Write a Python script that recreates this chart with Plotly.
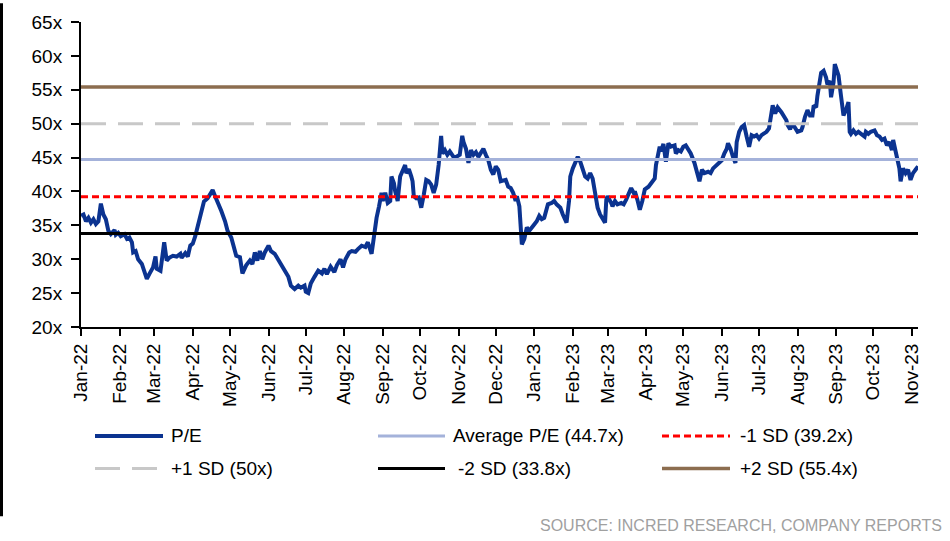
import plotly.graph_objects as go

# ---------------- data ----------------
dates = [
    "2022-01-01", "2022-01-03", "2022-01-05", "2022-01-07", "2022-01-09", "2022-01-11", "2022-01-13",
    "2022-01-15", "2022-01-17", "2022-01-19", "2022-01-21", "2022-01-23", "2022-01-25", "2022-01-28",
    "2022-01-29", "2022-01-31", "2022-02-02", "2022-02-05", "2022-02-07", "2022-02-09", "2022-02-11",
    "2022-02-12", "2022-02-14", "2022-02-16", "2022-02-19", "2022-02-21", "2022-02-23", "2022-02-25",
    "2022-02-28", "2022-03-02", "2022-03-03", "2022-03-06", "2022-03-09", "2022-03-11", "2022-03-13",
    "2022-03-16", "2022-03-19", "2022-03-22", "2022-03-23", "2022-03-26", "2022-03-28", "2022-03-30",
    "2022-04-01", "2022-04-03", "2022-04-05", "2022-04-08", "2022-04-10", "2022-04-13", "2022-04-15",
    "2022-04-17", "2022-04-19", "2022-04-21", "2022-04-24", "2022-04-27", "2022-04-29", "2022-05-02",
    "2022-05-04", "2022-05-06", "2022-05-09", "2022-05-11", "2022-05-14", "2022-05-17", "2022-05-19",
    "2022-05-21", "2022-05-23", "2022-05-25", "2022-05-27", "2022-05-29", "2022-06-01", "2022-06-03",
    "2022-06-06", "2022-06-09", "2022-06-11", "2022-06-14", "2022-06-17", "2022-06-19", "2022-06-22",
    "2022-06-25", "2022-06-27", "2022-06-30", "2022-07-01", "2022-07-03", "2022-07-05", "2022-07-08",
    "2022-07-11", "2022-07-14", "2022-07-16", "2022-07-18", "2022-07-21", "2022-07-24", "2022-07-26",
    "2022-07-29", "2022-07-31", "2022-08-02", "2022-08-05", "2022-08-07", "2022-08-10", "2022-08-12",
    "2022-08-15", "2022-08-18", "2022-08-20", "2022-08-23", "2022-08-25", "2022-08-27", "2022-08-29",
    "2022-08-31", "2022-09-01", "2022-09-03", "2022-09-05", "2022-09-07", "2022-09-08", "2022-09-10",
    "2022-09-11", "2022-09-13", "2022-09-15", "2022-09-17", "2022-09-19", "2022-09-20", "2022-09-22",
    "2022-09-24", "2022-09-25", "2022-09-26", "2022-09-28", "2022-09-30", "2022-10-02", "2022-10-04",
    "2022-10-06", "2022-10-08", "2022-10-10", "2022-10-12", "2022-10-14", "2022-10-16", "2022-10-18",
    "2022-10-19", "2022-10-21", "2022-10-23", "2022-10-25", "2022-10-28", "2022-10-30", "2022-11-02",
    "2022-11-04", "2022-11-05", "2022-11-07", "2022-11-09", "2022-11-11", "2022-11-13", "2022-11-15",
    "2022-11-17", "2022-11-19", "2022-11-21", "2022-11-23", "2022-11-25", "2022-11-27", "2022-11-29",
    "2022-12-01", "2022-12-03", "2022-12-05", "2022-12-09", "2022-12-11", "2022-12-13", "2022-12-15",
    "2022-12-17", "2022-12-18", "2022-12-20", "2022-12-22", "2022-12-24", "2022-12-26", "2022-12-28",
    "2022-12-31", "2023-01-03", "2023-01-05", "2023-01-07", "2023-01-09", "2023-01-12", "2023-01-15",
    "2023-01-17", "2023-01-19", "2023-01-22", "2023-01-24", "2023-01-27", "2023-01-29", "2023-01-30",
    "2023-02-01", "2023-02-03", "2023-02-05", "2023-02-07", "2023-02-09", "2023-02-11", "2023-02-13",
    "2023-02-15", "2023-02-17", "2023-02-19", "2023-02-21", "2023-02-23", "2023-02-25", "2023-02-27",
    "2023-02-28", "2023-03-01", "2023-03-04", "2023-03-05", "2023-03-07", "2023-03-09", "2023-03-12",
    "2023-03-14", "2023-03-16", "2023-03-18", "2023-03-20", "2023-03-22", "2023-03-23", "2023-03-25",
    "2023-03-27", "2023-03-29", "2023-03-31", "2023-04-03", "2023-04-05", "2023-04-08", "2023-04-09",
    "2023-04-11", "2023-04-12", "2023-04-13", "2023-04-15", "2023-04-17", "2023-04-19", "2023-04-21",
    "2023-04-24", "2023-04-25", "2023-04-27", "2023-04-29", "2023-05-01", "2023-05-03", "2023-05-05",
    "2023-05-07", "2023-05-10", "2023-05-11", "2023-05-14", "2023-05-16", "2023-05-18", "2023-05-21",
    "2023-05-23", "2023-05-25", "2023-05-28", "2023-05-30", "2023-06-01", "2023-06-03", "2023-06-05",
    "2023-06-06", "2023-06-08", "2023-06-10", "2023-06-12", "2023-06-13", "2023-06-15", "2023-06-17",
    "2023-06-19", "2023-06-21", "2023-06-23", "2023-06-25", "2023-06-27", "2023-06-29", "2023-07-01",
    "2023-07-03", "2023-07-05", "2023-07-07", "2023-07-09", "2023-07-10", "2023-07-12", "2023-07-14",
    "2023-07-16", "2023-07-19", "2023-07-21", "2023-07-23", "2023-07-24", "2023-07-26", "2023-07-28",
    "2023-07-30", "2023-08-01", "2023-08-04", "2023-08-05", "2023-08-07", "2023-08-09", "2023-08-11",
    "2023-08-13", "2023-08-14", "2023-08-16", "2023-08-17", "2023-08-19", "2023-08-20", "2023-08-22",
    "2023-08-24", "2023-08-25", "2023-08-27", "2023-08-28", "2023-08-30", "2023-08-31", "2023-09-01",
    "2023-09-03", "2023-09-05", "2023-09-06", "2023-09-07", "2023-09-09", "2023-09-11", "2023-09-12",
    "2023-09-13", "2023-09-15", "2023-09-17", "2023-09-19", "2023-09-21", "2023-09-24", "2023-09-25",
    "2023-09-27", "2023-09-29", "2023-10-02", "2023-10-04", "2023-10-06", "2023-10-08", "2023-10-10",
    "2023-10-12", "2023-10-14", "2023-10-16", "2023-10-17", "2023-10-19", "2023-10-20", "2023-10-22",
    "2023-10-23", "2023-10-25", "2023-10-27", "2023-10-29", "2023-10-31", "2023-11-02", "2023-11-04",
    "2023-11-06",
]

pe = [
    36.4, 36.6, 35.6, 36.1, 35.4, 35.9, 35.2,
    35.6, 38.2, 36.6, 35.9, 34.2, 33.7, 34.3,
    33.6, 33.9, 33.4, 33.7, 33.0, 33.2, 32.5,
    31.0, 31.2, 30.0, 29.3, 28.3, 27.1, 27.8,
    28.8, 30.4, 28.6, 28.3, 32.5, 29.8, 30.2,
    30.5, 30.4, 30.8, 30.2, 30.9, 30.4, 32.0,
    32.3, 33.4, 34.9, 36.8, 38.5, 39.0, 39.5,
    40.2, 39.3, 38.5, 37.1, 35.6, 34.2, 33.2,
    31.5, 30.5, 30.3, 27.9, 29.1, 29.8, 29.3,
    31.0, 29.8, 31.2, 30.0, 31.0, 32.0, 31.2,
    30.8, 29.8, 29.1, 28.3, 27.4, 26.1, 25.6,
    26.1, 25.8, 26.1, 25.2, 25.0, 26.4, 27.4,
    28.3, 27.9, 28.6, 27.8, 28.9, 28.1, 29.1,
    30.0, 28.8, 30.0, 31.0, 31.2, 31.1, 31.5,
    32.0, 31.8, 32.5, 30.8, 33.9, 36.1, 37.8,
    39.8, 38.6, 39.8, 38.3, 38.6, 42.2, 41.2,
    40.0, 38.6, 42.2, 43.2, 43.9, 42.7, 43.3,
    42.2, 41.5, 39.3, 39.0, 39.1, 37.6, 39.5,
    41.7, 41.5, 41.0, 39.8, 41.0, 43.9, 48.2,
    45.6, 46.1, 45.4, 45.9, 45.1, 45.1, 45.4,
    48.2, 47.3, 46.3, 44.2, 46.1, 45.4, 45.8,
    45.1, 45.6, 46.3, 45.4, 44.6, 43.2, 42.5,
    43.7, 43.2, 41.5, 41.7, 40.7, 40.5, 39.8,
    38.6, 39.3, 37.8, 32.2, 33.0, 34.7, 34.2,
    34.9, 35.6, 36.4, 35.9, 36.1, 38.1, 38.3,
    38.6, 38.1, 37.6, 36.6, 35.4, 38.6, 42.2,
    43.4, 44.4, 45.1, 44.4, 43.2, 42.2, 41.9,
    42.7, 41.9, 39.8, 37.6, 36.6, 35.9, 35.4,
    38.8, 39.3, 38.3, 37.8, 38.6, 38.1, 38.3,
    38.1, 38.8, 39.8, 40.5, 39.8, 40.0, 38.8,
    37.3, 38.6, 40.3, 40.7, 41.2, 41.9, 43.9,
    45.9, 46.6, 45.9, 47.0, 44.4, 47.1, 46.6,
    46.8, 45.6, 46.1, 45.9, 46.6, 46.8, 46.3,
    45.6, 44.2, 43.4, 41.5, 43.2, 42.7, 42.9,
    42.7, 43.4, 43.9, 44.4, 44.6, 45.6, 46.3,
    47.1, 46.3, 45.1, 44.2, 47.3, 48.8, 49.5,
    49.8, 48.1, 46.6, 48.3, 48.1, 48.3, 47.8,
    48.3, 48.5, 48.8, 49.3, 50.7, 52.7, 51.5,
    52.4, 51.7, 51.0, 50.5, 49.8, 49.2, 50.0,
    49.5, 48.8, 49.0, 49.5, 51.0, 52.0, 51.2,
    51.2, 52.7, 52.4, 54.1, 56.1, 57.5, 57.8,
    56.8, 55.8, 56.3, 53.9, 56.1, 58.8, 58.3,
    57.1, 54.1, 51.7, 51.2, 52.0, 53.2, 48.8,
    48.5, 49.0, 48.5, 48.8, 48.5, 48.1, 48.8,
    48.5, 48.8, 49.0, 48.3, 48.1, 47.6, 47.8,
    46.8, 47.3, 46.1, 47.6, 45.9, 44.9, 43.4,
    41.5, 43.4, 42.7, 43.2, 41.7, 42.7, 43.2,
    43.7,
]

avg_pe = 44.7
minus1_sd = 39.2
plus1_sd = 50.0
minus2_sd = 33.8
plus2_sd = 55.4

x_start = "2022-01-01"
x_end = "2023-11-06"

y_ticks = [20, 25, 30, 35, 40, 45, 50, 55, 60, 65]

series_names = ["P/E", "Average P/E (44.7x)", "-1 SD (39.2x)",
                "+1 SD (50x)", "-2 SD (33.8x)", "+2 SD (55.4x)"]
source_text = "SOURCE: INCRED RESEARCH, COMPANY REPORTS"

# ---------------- styles ----------------
FONT = "Arial, 'Liberation Sans', Helvetica, sans-serif"
styles = {
    "P/E": dict(color="#0B3390", width=4, dash="solid"),
    "Average P/E (44.7x)": dict(color="#A4B2DA", width=3, dash="solid"),
    "-1 SD (39.2x)": dict(color="#FF0000", width=3, dash="7px,4px"),
    "+1 SD (50x)": dict(color="#C8C8C8", width=3, dash="25px,12px"),
    "-2 SD (33.8x)": dict(color="#000000", width=3, dash="solid"),
    "+2 SD (55.4x)": dict(color="#8C6D4F", width=3.5, dash="solid"),
}

W, H = 950, 541
ML, MR, MT, MB = 81, 32, 19, 214
PW, PH = W - ML - MR, H - MT - MB


def px(xp):
    return (xp - ML) / PW


def py(yp):
    return (H - MB - yp) / PH


fig = go.Figure()

fig.add_trace(go.Scatter(x=dates, y=pe, mode="lines", name=series_names[0],
                         line=styles[series_names[0]], showlegend=False))

levels = [avg_pe, minus1_sd, plus1_sd, minus2_sd, plus2_sd]
for name, lvl in zip(series_names[1:], levels):
    fig.add_trace(go.Scatter(x=[x_start, x_end], y=[lvl, lvl], mode="lines",
                             name=name, line=styles[name], showlegend=False))

# custom legend (3 columns x 2 rows)
legend_layout = [
    (series_names[0], 95, 163, 169, 437),
    (series_names[1], 378, 445, 451, 437),
    (series_names[2], 662, 730, 738, 437),
    (series_names[3], 95, 163, 169, 470),
    (series_names[4], 378, 445, 456, 470),
    (series_names[5], 662, 730, 738, 470),
]
shapes = []
annotations = []
for name, x0, x1, xt, yr in legend_layout:
    st = styles[name]
    shapes.append(dict(type="line", xref="paper", yref="paper",
                       x0=px(x0), x1=px(x1), y0=py(yr), y1=py(yr),
                       line=dict(color=st["color"], width=st["width"], dash=st["dash"])))
    annotations.append(dict(text=name, xref="paper", yref="paper", x=px(xt), y=py(yr),
                            xanchor="left", yanchor="middle", showarrow=False,
                            font=dict(family=FONT, size=19, color="#000000")))

# left page border line
shapes.append(dict(type="line", xref="paper", yref="paper", x0=px(1.5), x1=px(1.5),
                   y0=py(0), y1=py(518), line=dict(color="#000000", width=3)))

annotations.append(dict(text=source_text, xref="paper", yref="paper", x=px(944), y=py(527),
                        xanchor="right", yanchor="middle", showarrow=False,
                        font=dict(family=FONT, size=16, color="#A0A0A0")))

fig.update_layout(
    width=W, height=H, autosize=False,
    margin=dict(l=ML, r=MR, t=MT, b=MB),
    paper_bgcolor="white", plot_bgcolor="white",
    font=dict(family=FONT, size=19, color="#000000"),
    shapes=shapes, annotations=annotations,
    showlegend=False,
)

fig.update_xaxes(
    type="date", range=[x_start, x_end],
    tick0=x_start, dtick="M1", tickformat="%b-%y", tickangle=-90,
    ticks="outside", ticklen=7, tickwidth=2, tickcolor="#000000",
    showline=True, linecolor="#000000", linewidth=2,
    showgrid=False, zeroline=False,
    tickfont=dict(family=FONT, size=19, color="#000000"),
)
fig.update_yaxes(
    range=[20, 65], tickvals=y_ticks, ticktext=[f"{v}x" for v in y_ticks],
    ticks="outside", ticklen=8, tickwidth=2, tickcolor="#000000",
    ticklabelstandoff=5,
    showline=True, linecolor="#000000", linewidth=2,
    showgrid=False, zeroline=False,
    tickfont=dict(family=FONT, size=19, color="#000000"),
)

fig.write_html(
    "out.html",
    config={"displayModeBar": False},
    post_script="document.documentElement.style.margin='0';document.body.style.margin='0';"
                "document.body.style.overflow='hidden';",
)
